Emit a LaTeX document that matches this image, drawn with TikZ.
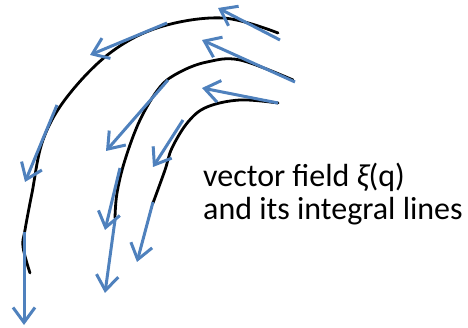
\documentclass[tikz,border=0pt]{standalone}
\usepackage{fontspec}
\setmainfont{Carlito}
\usetikzlibrary{arrows.meta}

\definecolor{fieldblue}{RGB}{79,129,189}

\begin{document}
\begin{tikzpicture}[x=1pt, y=-1pt,
  intline/.style={line width=2.8pt, black, line cap=round},
  fieldvec/.style={line width=3pt, fieldblue,
    -{Straight Barb[length=15pt, width=22pt, line width=3pt]}}]

\useasboundingbox (0,0) rectangle (468,328);

% integral lines
\draw[intline] plot[smooth, tension=0.6] coordinates {(278,33) (223,18) (160,27) (110,53) (67,97) (43,140) (32,193) (25,230) (23,247) (30,273)};
\draw[intline] plot[smooth, tension=0.6] coordinates {(293,80) (240,60) (207,62) (180,72) (160,87) (140,120) (125,160) (117,193) (115,218)};
\draw[intline] plot[smooth, tension=0.6] coordinates {(278,103) (240,100) (207,107) (188,122) (172,148) (165,170) (153,203)};

% vector field
\draw[fieldvec] (280,40) -- (218,8);
\draw[fieldvec] (295,82) -- (202,40);
\draw[fieldvec] (278,103) -- (202,88);
\draw[fieldvec] (167,23) -- (90,55);
\draw[fieldvec] (168,80) -- (106,151);
\draw[fieldvec] (183,120) -- (153,167);
\draw[fieldvec] (57,105) -- (25,182);
\draw[fieldvec] (120,168) -- (105,230);
\draw[fieldvec] (115,220) -- (105,293);
\draw[fieldvec] (153,202) -- (137,262);
\draw[fieldvec] (24,232) -- (24,325);

% label
\node[anchor=north west, align=left, inner sep=0pt, font=\fontsize{32}{33}\selectfont]
  (caption) at (203,163) {vector field {\itshape ξ}(q)\\and its integral lines};

\end{tikzpicture}
\end{document}
